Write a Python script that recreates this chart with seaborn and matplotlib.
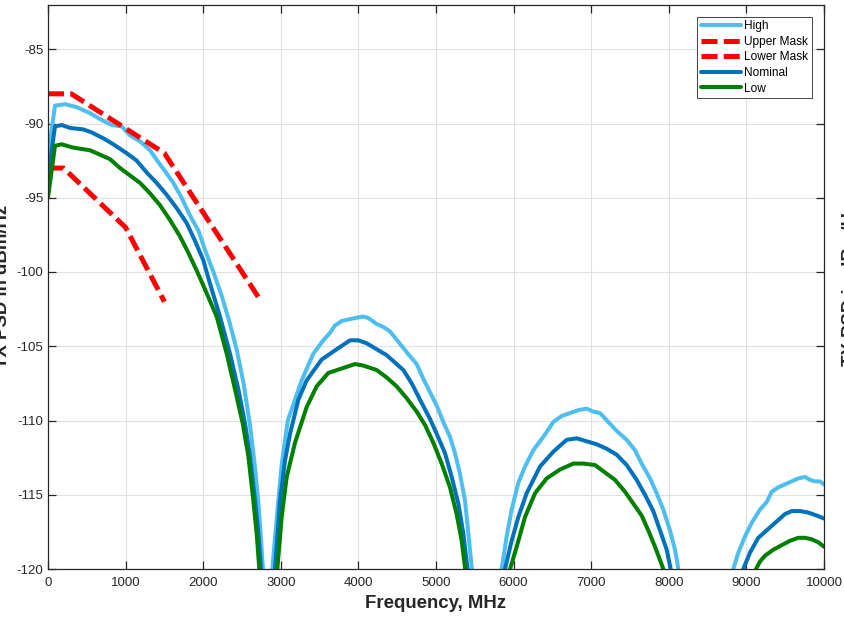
import matplotlib
matplotlib.use("Agg")
import matplotlib.pyplot as plt
import pandas as pd
import seaborn as sns

# ---------------- data ----------------
freq_ticks = [0, 1000, 2000, 3000, 4000, 5000, 6000, 7000, 8000, 9000, 10000]
psd_ticks = [-120, -115, -110, -105, -100, -95, -90, -85]

high_f = [0, 90, 219, 370, 541, 670, 820, 949, 1057, 1186, 1314, 1421, 1508, 1615,
          1722, 1830, 1937, 2023, 2131, 2238, 2340, 2435, 2520, 2600, 2660, 2710, 2745,
          2770, 2832, 2890, 2975, 3011, 3090, 3183, 3269, 3419, 3548, 3634, 3698, 3784,
          3870, 3956, 4063, 4128, 4235, 4321, 4407, 4515, 4622, 4751, 4837, 4923, 5009,
          5094, 5180, 5245, 5309, 5374, 5417, 5460, 5650, 5846, 5911, 5975, 6061, 6147,
          6254, 6383, 6512, 6619, 6727, 6834, 6942, 7027, 7113, 7221, 7328, 7457, 7564,
          7650, 7758, 7844, 7929, 8015, 8080, 8123, 8477, 8831, 8896, 8982, 9068, 9175,
          9261, 9326, 9411, 9497, 9583, 9669, 9755, 9820, 9884, 9948, 10000]
high_db = [-92.2, -88.8, -88.7, -88.9, -89.3, -89.7, -90.1, -90.2, -90.8, -91.2, -91.8,
           -92.6, -93.2, -94.0, -95.0, -96.2, -97.2, -98.5, -100.0, -101.6, -103.4,
           -105.3, -107.5, -110.2, -112.8, -115.5, -118.0, -120.0, -140.0, -120.0,
           -115.0, -113.0, -110.0, -108.6, -107.3, -105.5, -104.6, -104.1, -103.6,
           -103.3, -103.2, -103.1, -103.0, -103.1, -103.5, -103.7, -104.0, -104.7,
           -105.4, -106.2, -107.2, -108.1, -109.0, -110.1, -111.1, -112.2, -113.6,
           -115.4, -117.6, -119.9, -140.0, -120.0, -117.8, -116.0, -114.2, -113.1,
           -112.0, -111.1, -110.1, -109.7, -109.5, -109.3, -109.2, -109.4, -109.5,
           -110.1, -110.7, -111.3, -112.0, -112.9, -113.9, -114.9, -116.0, -117.4,
           -118.7, -120.0, -140.0, -120.0, -118.9, -117.8, -116.9, -116.0, -115.5,
           -114.8, -114.5, -114.3, -114.1, -113.9, -113.8, -114.0, -114.1, -114.1, -114.3]

upper_f = [0, 300, 1500, 2750]
upper_db = [-88.0, -88.0, -92.0, -102.0]

lower_f = [0, 200, 1000, 1500]
lower_db = [-93.0, -93.0, -97.0, -102.0]

nom_f = [0, 90, 176, 284, 455, 563, 713, 842, 1014, 1143, 1272, 1400, 1529, 1658, 1787,
         1894, 2001, 2066, 2216, 2345, 2453, 2539, 2603, 2668, 2711, 2745, 2835, 2925,
         2990, 3054, 3119, 3226, 3333, 3526, 3720, 3892, 3999, 4107, 4235, 4364, 4472,
         4579, 4687, 4794, 4923, 5009, 5116, 5202, 5288, 5352, 5404, 5646, 5889, 5975,
         6061, 6168, 6340, 6512, 6684, 6813, 6942, 7070, 7199, 7328, 7457, 7586, 7693,
         7800, 7887, 7973, 8024, 8492, 8960, 9046, 9153, 9282, 9390, 9497, 9583, 9691,
         9798, 9906, 10000]
nom_db = [-93.6, -90.2, -90.1, -90.3, -90.4, -90.6, -91.0, -91.4, -92.0, -92.5, -93.3,
          -94.0, -94.8, -95.7, -96.7, -97.9, -99.2, -100.4, -103.0, -105.5, -107.9,
          -110.2, -112.4, -115.4, -117.6, -120.0, -140.0, -120.0, -115.4, -112.7,
          -110.9, -108.6, -107.3, -105.9, -105.2, -104.6, -104.6, -104.8, -105.2,
          -105.6, -106.1, -106.6, -107.5, -108.6, -109.9, -110.9, -112.2, -113.8,
          -115.6, -117.6, -119.9, -140.0, -120.0, -118.1, -116.5, -114.9, -113.1,
          -112.1, -111.3, -111.2, -111.4, -111.6, -111.9, -112.3, -113.0, -114.0,
          -115.0, -116.1, -117.4, -118.7, -120.0, -140.0, -120.0, -118.9, -117.9,
          -117.3, -116.8, -116.3, -116.1, -116.1, -116.2, -116.4, -116.6]

low_f = [0, 90, 176, 305, 412, 541, 670, 799, 928, 1057, 1186, 1314, 1443, 1572, 1701,
         1808, 1916, 2001, 2174, 2303, 2410, 2509, 2582, 2646, 2689, 2723, 2840, 2955,
         3011, 3076, 3183, 3333, 3462, 3612, 3784, 3956, 4063, 4235, 4364, 4493, 4622,
         4751, 4858, 4966, 5073, 5180, 5266, 5331, 5374, 5664, 5954, 6040, 6147, 6276,
         6426, 6598, 6770, 6899, 7049, 7178, 7307, 7436, 7543, 7650, 7736, 7822, 7887,
         7929, 8527, 9124, 9175, 9240, 9347, 9454, 9562, 9669, 9755, 9841, 9927, 10000]
low_db = [-95.0, -91.5, -91.4, -91.6, -91.7, -91.8, -92.1, -92.4, -93.0, -93.5, -94.0,
          -94.7, -95.5, -96.5, -97.6, -98.7, -99.9, -100.9, -103.0, -105.5, -107.9,
          -110.2, -112.4, -115.4, -117.6, -120.0, -140.0, -120.0, -116.5, -113.8,
          -111.5, -109.1, -107.7, -106.8, -106.5, -106.2, -106.3, -106.6, -107.1,
          -107.7, -108.5, -109.4, -110.3, -111.5, -112.9, -114.5, -116.3, -118.1,
          -119.9, -140.0, -120.0, -118.5, -116.5, -114.9, -113.9, -113.3, -112.9,
          -112.9, -113.0, -113.5, -114.0, -114.8, -115.6, -116.4, -117.4, -118.5,
          -119.4, -120.0, -140.0, -120.0, -119.5, -119.1, -118.7, -118.4, -118.1,
          -117.9, -117.9, -118.0, -118.2, -118.5]

labels = ["High", "Upper Mask", "Lower Mask", "Nominal", "Low"]
colors = ["#4DBEEE", "#FF0000", "#FF0000", "#0072BD", "#008000"]

# ---------------- styling ----------------
sns.set_theme(style="white")
plt.rcParams["font.family"] = ["Liberation Sans", "DejaVu Sans"]
plt.rcParams["axes.unicode_minus"] = False
txt = "#262626"

fig = plt.figure(figsize=(8.45, 6.21), dpi=100)
ax = fig.add_axes([48 / 845, 1 - 569 / 621, 776 / 845, (569 - 4.7) / 621])

data = [(high_f, high_db), (upper_f, upper_db), (lower_f, lower_db),
        (nom_f, nom_db), (low_f, low_db)]
for (f, db), lab, col in zip(data, labels, colors):
    assert len(f) == len(db), lab
    df = pd.DataFrame({"Frequency": f, "PSD": db})
    is_mask = "Mask" in lab
    sns.lineplot(data=df, x="Frequency", y="PSD", ax=ax, color=col,
                 linewidth=3.6 if is_mask else 2.9, label=lab,
                 sort=False, estimator=None, errorbar=None)
    line = ax.lines[-1]
    if is_mask:
        line.set_dashes([3.2, 1.25])
        line.set_dash_capstyle("butt")
    line.set_solid_joinstyle("round")

ax.set_xlim(0, 10000)
ax.set_ylim(-120, -82)
ax.set_xticks(freq_ticks)
ax.set_yticks(psd_ticks)
ax.set_xticklabels([str(t) for t in freq_ticks])
ax.set_yticklabels([str(t) for t in psd_ticks])

ax.grid(True, color="#e1e1e1", linewidth=0.8)
ax.set_axisbelow(True)
for sp in ax.spines.values():
    sp.set_color(txt)
    sp.set_linewidth(0.9)
    sp.set_visible(True)

ax.tick_params(axis="both", which="both", direction="in", length=5.6, width=0.9,
               colors=txt, labelsize=9.5, top=True, right=True, bottom=True, left=True)
ax.tick_params(axis="x", pad=6)
ax.tick_params(axis="y", pad=3.5)

ax.set_xlabel("Frequency, MHz", fontsize=13.4, fontweight="bold", color=txt, labelpad=4)
ax.set_ylabel("TX PSD in dBm/Hz", fontsize=13.4, fontweight="bold", color=txt)
ax.yaxis.set_label_coords(-0.0477, 0.5)

leg = ax.legend(loc="upper right", fontsize=8.6, frameon=True, fancybox=False,
                framealpha=1, edgecolor=txt, handlelength=3.4, handletextpad=0.25,
                labelspacing=0.3, borderpad=0.3, borderaxespad=1.0)
leg.get_frame().set_linewidth(0.6)
for t in leg.get_texts():
    t.set_color("black")

# label of the neighbouring panel, cut off at the right edge
fig.text(842.5 / 845, 1 - 284 / 621, "TX PSD in dBm/Hz", rotation=90, ha="left",
         va="center", fontsize=13.4, fontweight="bold", color=txt)

fig.savefig("out.png", dpi=100)
